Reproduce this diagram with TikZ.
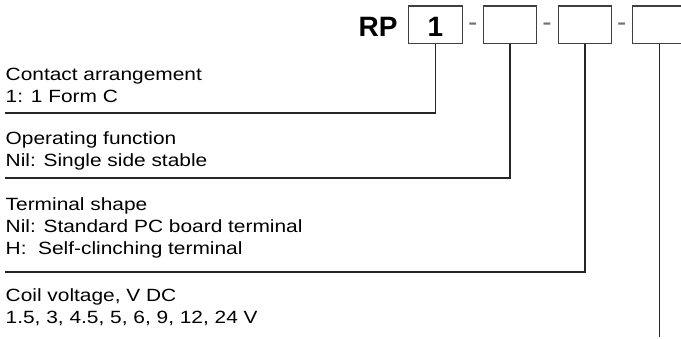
\documentclass[tikz,border=0pt]{standalone}
\usepackage{fontspec}
\setmainfont{Liberation Sans}
\usepackage{graphicx}
\newcommand{\bodytxt}[1]{\scalebox{1.18}[1]{\fontsize{17.7pt}{22pt}\selectfont\begin{tabular}[t]{@{}l@{}}#1\end{tabular}}}
\tikzset{
  box/.style={draw=black!75, line width=1.2pt, minimum width=53.5pt, minimum height=37.3pt, inner sep=0pt},
  conn/.style={draw=black!85, line width=1.3pt},
  txt/.style={anchor=base west, inner sep=0pt},
  bigtxt/.style={inner sep=0pt, font=\bfseries\fontsize{28pt}{30pt}\selectfont},
  dashtxt/.style={inner sep=0pt, anchor=base, text=black!55, font=\fontsize{28pt}{30pt}\selectfont}
}
\begin{document}
\begin{tikzpicture}[x=1pt,y=-1pt]
\clip (0,0) rectangle (681,338);
\useasboundingbox (0,0) rectangle (681,338);
\fill[white] (0,0) rectangle (681,338);
% boxes
\node[box] (b1) at (435.5,24.7) {};
\node[box] (b2) at (510,24.7) {};
\node[box] (b3) at (585,24.7) {};
\node[box] (b4) at (659.3,24.7) {};
\node[bigtxt, anchor=base] (n1) at (435.3,36.7) {1};
\node[bigtxt, anchor=base east] (rp) at (397.8,36.7) {RP};
% dashes
\node[dashtxt] (d1) at (472.7,31.7) {-};
\node[dashtxt] (d2) at (547,31.7) {-};
\node[dashtxt] (d3) at (621.8,31.7) {-};
% text blocks
\node[txt] (t1) at (5.5,80) {\bodytxt{Contact arrangement\\1: 1 Form C}};
\node[txt] (t2) at (5.5,144.5) {\bodytxt{Operating function\\Nil: Single side stable}};
\node[txt] (t3) at (5.5,210) {\bodytxt{Terminal shape\\Nil: Standard PC board terminal\\H:\ \ Self-clinching terminal}};
\node[txt] (t4) at (5.5,301.5) {\bodytxt{Coil voltage, V DC\\1.5, 3, 4.5, 5, 6, 9, 12, 24 V}};
% connectors
\coordinate (e1) at (5,113);
\coordinate (e2) at (5,178);
\coordinate (e3) at (5,272);
\coordinate (e4) at (659.3,337);
\draw[conn] (b1.south) |- (e1);
\draw[conn] (b2.south) |- (e2);
\draw[conn] (b3.south) |- (e3);
\draw[conn] (b4.south) -- (e4);
\end{tikzpicture}
\end{document}
